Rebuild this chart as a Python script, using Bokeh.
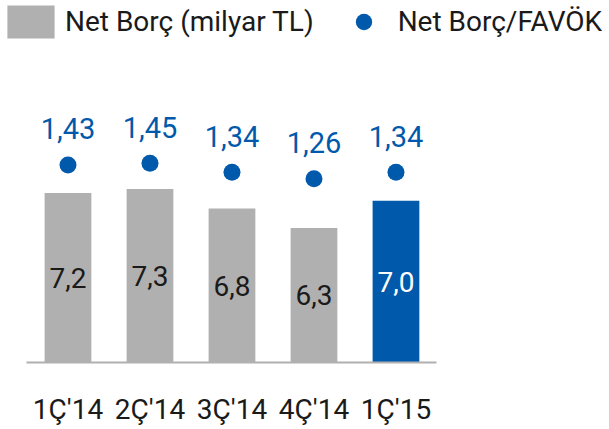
from bokeh.plotting import figure
from bokeh.models import ColumnDataSource, Range1d, Legend, LegendItem, FixedTicker
from bokeh.core.properties import value
from bokeh.embed import file_html
from bokeh.resources import INLINE

# ---- data ----
categories = ["1Ç'14", "2Ç'14", "3Ç'14", "4Ç'14", "1Ç'15"]
net_debt = [7.2, 7.3, 6.8, 6.3, 7.0]          # Net Borç (milyar TL)
debt_ebitda = [1.43, 1.45, 1.34, 1.26, 1.34]   # Net Borç/FAVÖK

def tr(v, d):
    return f"{v:.{d}f}".replace(".", ",")

debt_labels = [tr(v, 1) for v in net_debt]
ratio_labels = [tr(v, 2) for v in debt_ebitda]
xpos = [i + 0.5 for i in range(len(categories))]   # category slots

# ---- style ----
GRAY = "#b0b0b0"
BLUE = "#0059ab"
DARK = "#1a1a1a"
bar_colors = [GRAY] * 4 + [BLUE]
text_colors = [DARK] * 4 + ["#ffffff"]
FONT = "Roboto"

BASE = 2.86            # truncated axis baseline of the original chart
Y0, Y1 = 1.146, 12.123
R0, R1 = -1.844, 3.465
X0, X1 = -0.323, 7.104

src = ColumnDataSource(dict(
    x=xpos, cat=categories, debt=net_debt, ratio=debt_ebitda,
    debt_lbl=debt_labels, ratio_lbl=ratio_labels,
    color=bar_colors, tcolor=text_colors,
    mid=[(BASE + v) / 2 for v in net_debt],
))

p = figure(width=609, height=429,
           x_range=Range1d(X0, X1), y_range=Range1d(Y0, Y1),
           output_backend="svg", toolbar_location=None,
           y_axis_location=None,
           min_border_left=0, min_border_right=0,
           min_border_top=0, min_border_bottom=0,
           outline_line_color=None)
p.extra_y_ranges = {"ratio": Range1d(R0, R1)}
p.grid.visible = False

bars = p.vbar(x="x", top="debt", bottom=BASE, width=0.57,
              fill_color="color", line_color=None, source=src)
dots = p.scatter(x="x", y="ratio", y_range_name="ratio", size=17,
                 fill_color=BLUE, line_color=None, source=src)

p.text(x="x", y="mid", text="debt_lbl", text_color="tcolor",
       text_align="center", text_baseline="middle",
       text_font=value(FONT), text_font_size="28px", source=src)
p.text(x="x", y="ratio", y_range_name="ratio", text="ratio_lbl",
       y_offset=-36, text_color=BLUE,
       text_align="center", text_baseline="middle",
       text_font=value(FONT), text_font_size="29px", source=src)

ax = p.xaxis[0]
ax.fixed_location = BASE
ax.bounds = (0, len(categories))
ax.ticker = FixedTicker(ticks=xpos)
ax.major_label_overrides = {x: c for x, c in zip(xpos, categories)}
ax.axis_line_color = GRAY
ax.axis_line_width = 2
ax.major_tick_line_color = None
ax.minor_tick_line_color = None
ax.major_tick_out = 0
ax.major_tick_in = 0
ax.major_label_standoff = 30
ax.major_label_text_font = FONT
ax.major_label_text_font_size = "28px"
ax.major_label_text_color = DARK

legend = Legend(items=[
    LegendItem(label="Net Borç (milyar TL)", renderers=[bars], index=0),
    LegendItem(label="Net Borç/FAVÖK", renderers=[dots], index=0),
], location=(1, 387), orientation="horizontal",
    glyph_width=59, glyph_height=41, label_standoff=5, spacing=20,
    padding=0, margin=0, border_line_color=None, background_fill_alpha=0,
    label_text_font=FONT, label_text_font_size="28px",
    label_text_color=DARK, label_text_baseline="middle")
p.add_layout(legend)

open("out.html", "w").write(file_html(p, INLINE))
